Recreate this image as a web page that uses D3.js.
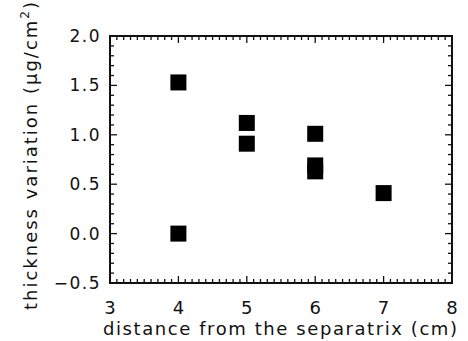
<!DOCTYPE html>
<html>
<head>
<meta charset="utf-8">
<script src="https://cdn.jsdelivr.net/npm/d3@7"></script>
<style>
  body { margin: 0; background: #fff; }
  svg text { font-family: "DejaVu Sans", Arial, sans-serif; fill: #111; }
</style>
</head>
<body>
<svg id="chart"></svg>
<script>
// data
const distance = [4, 4, 5, 5, 6, 6, 6, 7]
const thickness = [1.53, 0.0, 1.12, 0.91, 1.01, 0.69, 0.63, 0.41]
const xTicks = [3, 4, 5, 6, 7, 8]
const yTicks = [-0.5, 0.0, 0.5, 1.0, 1.5, 2.0]

const config = {
    width: 468,
    height: 341,
    left: 110, right: 452, top: 36, bottom: 283,
    markerSize: 16
}

const svg = d3.select("svg#chart")
    .attr("width", config.width)
    .attr("height", config.height)

const x = d3.scaleLinear().domain([3, 8]).range([config.left, config.right])
const y = d3.scaleLinear().domain([-0.5, 2.0]).range([config.bottom, config.top])

// inward ticks on all four sides, minor every 0.1
const minorX = d3.range(30, 81).map(d => d / 10)
const minorY = d3.range(-5, 21).map(d => d / 10)
const near = (v, step) => Math.abs(v / step - Math.round(v / step)) < 1e-6

const tickLines = svg.append("g")
minorX.forEach(v => {
    const len = near(v, 1) ? 7 : 4
    tickLines.append("line").attr("x1", x(v)).attr("x2", x(v))
        .attr("y1", config.bottom).attr("y2", config.bottom - len)
    tickLines.append("line").attr("x1", x(v)).attr("x2", x(v))
        .attr("y1", config.top).attr("y2", config.top + len)
})
minorY.forEach(v => {
    const len = near(v, 0.5) ? 7 : 4
    tickLines.append("line").attr("y1", y(v)).attr("y2", y(v))
        .attr("x1", config.left).attr("x2", config.left + len)
    tickLines.append("line").attr("y1", y(v)).attr("y2", y(v))
        .attr("x1", config.right).attr("x2", config.right - len)
})
tickLines.selectAll("line").style("stroke", "#111").style("stroke-width", 1.3)

// frame
svg.append("rect")
    .attr("x", config.left).attr("y", config.top)
    .attr("width", config.right - config.left)
    .attr("height", config.bottom - config.top)
    .style("fill", "none").style("stroke", "#111").style("stroke-width", 2)

// tick labels
svg.append("g").selectAll("text").data(xTicks).join("text")
    .attr("x", d => x(d)).attr("y", 314)
    .attr("text-anchor", "middle")
    .style("font-size", "18px")
    .text(d => d)

svg.append("g").selectAll("text").data(yTicks).join("text")
    .attr("x", 101).attr("y", d => y(d) + 6)
    .attr("text-anchor", "end")
    .style("font-size", "17px")
    .style("letter-spacing", "1.5px")
    .text(d => (d < 0 ? "\u2212" : "") + Math.abs(d).toFixed(1))

// axis titles
svg.append("text")
    .attr("x", 280).attr("y", 335)
    .attr("text-anchor", "middle")
    .attr("textLength", 354).attr("lengthAdjust", "spacing")
    .style("font-size", "18px")
    .text("distance from the separatrix (cm)")

const yTitle = svg.append("text")
    .attr("transform", "translate(37,156) rotate(-90)")
    .attr("text-anchor", "middle")
    .attr("textLength", 308).attr("lengthAdjust", "spacing")
    .style("font-size", "18px")
yTitle.append("tspan").text("thickness variation (\u03bcg/cm")
yTitle.append("tspan").attr("dy", -8).style("font-size", "12px").text("2")
yTitle.append("tspan").attr("dy", 8).text(")")

// markers
svg.append("g").selectAll("rect").data(distance).join("rect")
    .attr("x", d => x(d) - config.markerSize / 2)
    .attr("y", (d, i) => y(thickness[i]) - config.markerSize / 2)
    .attr("width", config.markerSize).attr("height", config.markerSize)
    .style("fill", "#000")
</script>
</body>
</html>
